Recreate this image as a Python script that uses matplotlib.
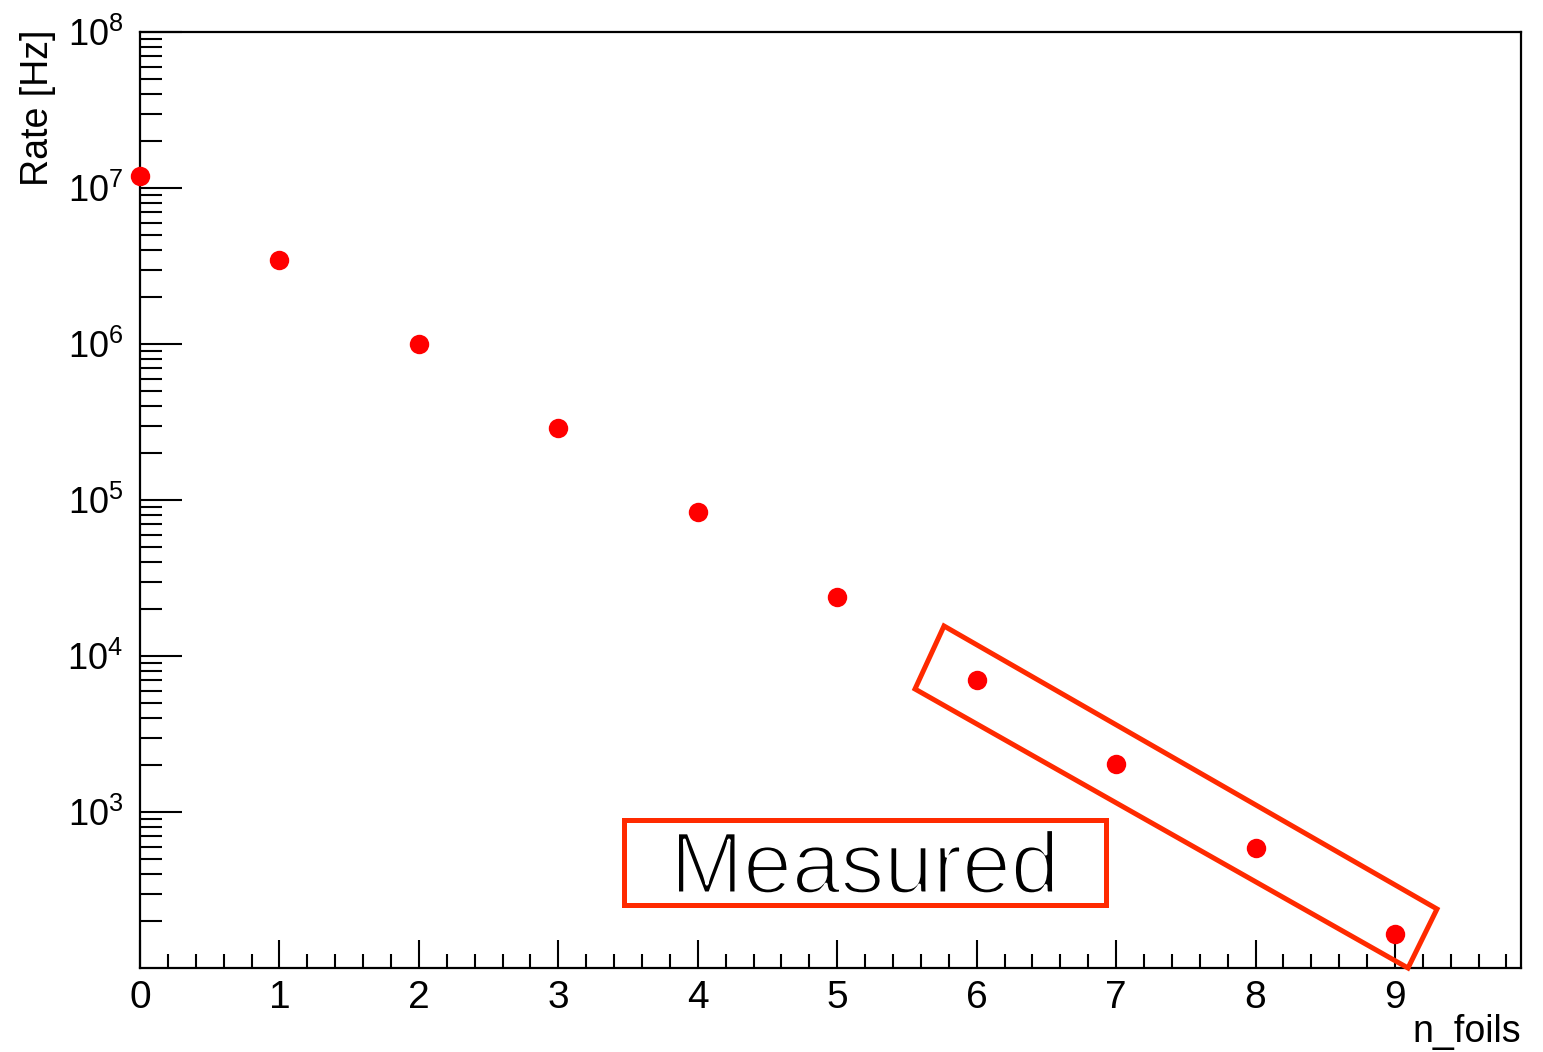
import math
import matplotlib
matplotlib.use("Agg")
import matplotlib.pyplot as plt
from matplotlib.patches import Polygon, Rectangle
from matplotlib.ticker import LogLocator, MultipleLocator, NullFormatter
import matplotlib.patheffects as pe

n_foils = [0, 1, 2, 3, 4, 5, 6, 7, 8, 9]
rate_hz = [1.19e7, 3.45e6, 1.0e6, 2.9e5, 8.4e4, 2.39e4, 7.0e3, 2.03e3, 5.9e2, 1.65e2]
y_tick_values = [1e3, 1e4, 1e5, 1e6, 1e7, 1e8]
x_label = "n_foils"
y_label = "Rate [Hz]"
box_text = "Measured"

W, H = 1543, 1052
fig = plt.figure(figsize=(W / 100, H / 100), dpi=100)
plt.rcParams['font.family'] = ['Liberation Sans', 'DejaVu Sans']
plt.rcParams['mathtext.fontset'] = 'custom'
plt.rcParams['mathtext.rm'] = 'Liberation Sans'

L, R, T, B = 140, 1521, 32, 968
ax = fig.add_axes([L / W, 1 - B / H, (R - L) / W, (B - T) / H])
ax.plot(n_foils, rate_hz, 'o', color='#ff0000', markersize=14, markeredgewidth=0, clip_on=False, zorder=5)
ax.set_yscale('log')
ax.set_xlim(0, 9.904)
ax.set_ylim(1e2, 1e8)

ax.xaxis.set_major_locator(MultipleLocator(1))
ax.xaxis.set_minor_locator(MultipleLocator(0.2))
ax.yaxis.set_minor_locator(LogLocator(base=10, subs=range(2, 10), numticks=20))
ax.yaxis.set_minor_formatter(NullFormatter())

ax.tick_params(axis='both', which='both', direction='in', top=False, right=False,
               width=1.5, colors='black')
ax.tick_params(axis='x', which='major', length=20, pad=9, labelsize=28)
ax.tick_params(axis='x', which='minor', length=10)
ax.tick_params(axis='y', which='major', length=30, pad=12, labelsize=26)
ax.tick_params(axis='y', which='minor', length=16)
for s in ax.spines.values():
    s.set_linewidth(1.6)

ax.set_yticks(y_tick_values)
ax.set_yticklabels([r'$\mathdefault{10^{%d}}$' % int(round(math.log10(v))) for v in y_tick_values])

fig.text(R / W, 1 - 1050 / H, x_label, ha='right', va='bottom', fontsize=27)
fig.text(20 / W, 1 - 30 / H, y_label, ha='left', va='top', rotation=90, fontsize=27)

red = '#ff2a00'
corners = [(944, 626), (915, 689), (1408, 968), (1437, 909)]
poly = Polygon([(x / W, 1 - y / H) for x, y in corners], closed=True, fill=False,
               edgecolor=red, linewidth=3.6, transform=fig.transFigure, zorder=10)
fig.add_artist(poly)

rx0, ry0, rx1, ry1 = 624, 820, 1106, 905
rect = Rectangle((rx0 / W, 1 - ry1 / H), (rx1 - rx0) / W, (ry1 - ry0) / H, fill=True,
                 facecolor='white', edgecolor=red, linewidth=3.6, transform=fig.transFigure, zorder=10,
                 path_effects=[pe.SimplePatchShadow(offset=(2, -2), alpha=0.25), pe.Normal()])
fig.add_artist(rect)
fig.text((rx0 + rx1) / 2 / W, 1 - 893 / H, box_text, ha='center', va='baseline',
         fontsize=63, family=['Liberation Sans', 'DejaVu Sans'], zorder=11,
         path_effects=[pe.Normal(), pe.Stroke(linewidth=2.2, foreground='white')])

fig.savefig('out.png', dpi=100)
